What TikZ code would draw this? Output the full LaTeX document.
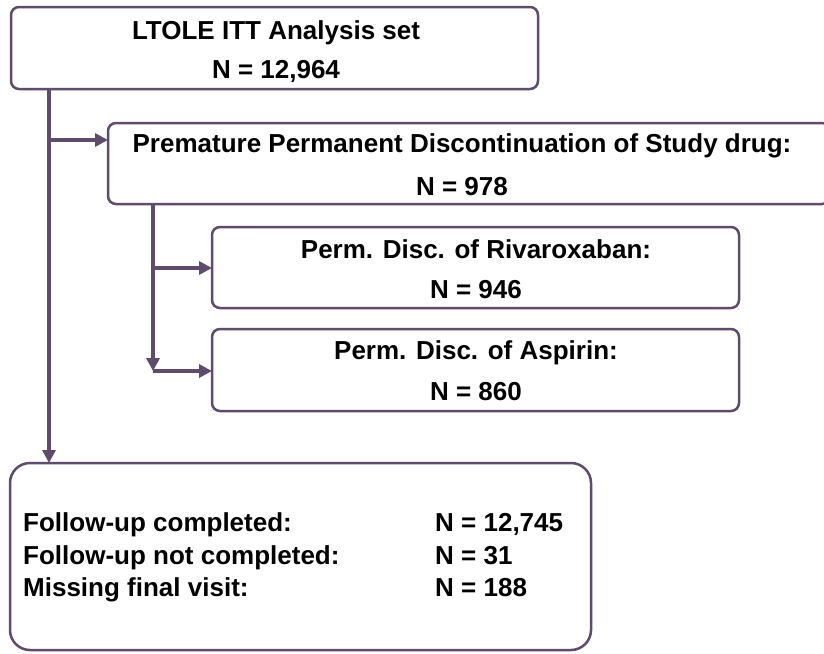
\documentclass[tikz,border=0pt]{standalone}
\usepackage{fontspec}
\setmainfont{Liberation Sans}
\usetikzlibrary{arrows.meta}
\definecolor{plum}{RGB}{95,75,107}
\begin{document}
\begin{tikzpicture}[x=1pt,y=-1pt,
  box/.style={draw=plum, line width=2.5pt, rounded corners=8pt, outer sep=0pt, inner sep=0pt, fill=white},
  bigbox/.style={box, rounded corners=20pt},
  conn/.style={draw=plum, line width=4pt},
  arr/.style={conn, -{Triangle[length=13pt,width=13pt]}},
  txt/.style={font=\fontsize{26}{30}\selectfont\bfseries, inner sep=0pt, anchor=base},
  ltxt/.style={txt, anchor=base west}]
\useasboundingbox (0,0) rectangle (824,653);
\clip (0,0) rectangle (824,653);
\fill[white] (0,0) rectangle (824,653);
% boxes
\node[box, minimum width=527pt, minimum height=82pt] (b1) at (274.5,48) {};
\node[box, minimum width=722pt, minimum height=81pt] (b2) at (469,163.5) {};
\node[box, minimum width=527pt, minimum height=81pt] (b3) at (475.5,267.5) {};
\node[box, minimum width=527pt, minimum height=82pt] (b4) at (475.5,370) {};
\node[bigbox, minimum width=581pt, minimum height=187pt] (b5) at (300.5,556.5) {};
% texts
\node[txt] (t1a) at (276,39) {LTOLE ITT Analysis set};
\node[txt] (t1b) at (276,78) {N = 12,964};
\node[txt] (t2a) at (462,152) {Premature Permanent Discontinuation of Study drug:};
\node[txt] (t2b) at (462,195) {N = 978};
\node[txt] (t3a) at (476,258) {Perm. Disc. of Rivaroxaban:};
\node[txt] (t3b) at (476,298) {N = 946};
\node[txt] (t4a) at (476,359) {Perm. Disc. of Aspirin:};
\node[txt] (t4b) at (476,400) {N = 860};
\node[ltxt] (t5a) at (23,531) {Follow-up completed:};
\node[ltxt] (t5b) at (23,564) {Follow-up not completed:};
\node[ltxt] (t5c) at (23,596) {Missing final visit:};
\node[ltxt] (n5a) at (435,531) {N = 12,745};
\node[ltxt] (n5b) at (435,564) {N = 31};
\node[ltxt] (n5c) at (435,596) {N = 188};
% connectors
\coordinate (s1) at ([xshift=38pt]b1.south west);
\coordinate (j1) at (s1 |- 0,140);
\draw[arr] (s1) -- (s1 |- b5.north);
\draw[arr] (j1) -- (j1 -| b2.west);
\coordinate (s2) at ([xshift=45pt]b2.south west);
\coordinate (j2) at (s2 |- 0,268);
\coordinate (j3) at (s2 |- 0,371);
\draw[arr] (s2) -- (j3);
\draw[arr] (j2) -- (j2 -| b3.west);
\draw[arr] (j3) -- (j3 -| b4.west);
\end{tikzpicture}
\end{document}
